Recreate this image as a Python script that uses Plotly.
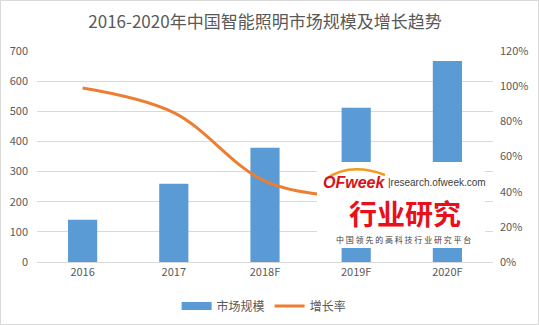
import plotly.graph_objects as go

# Market size (bars, left axis) and growth rate (line, right axis, %)
years = ["2016", "2017", "2018F", "2019F", "2020F"]
market_size = [140, 260, 379, 512, 667]
growth_rate = [99, 85, 46, 36, 30]

W, H = 539, 325
ML, MR, MT, MB = 37, 46, 51, 63
PW, PH = W - ML - MR, H - MT - MB


def px(x):
    return (x - ML) / PW


def py(y):
    return (H - MB - y) / PH


FONT = "Noto Sans CJK SC"
GREY = "#595959"
BLUE = "#5B9BD5"
ORANGE = "#ED7D31"

fig = go.Figure()
fig.add_trace(go.Bar(
    x=years, y=market_size, name="市场规模",
    marker=dict(color=BLUE, line=dict(width=0)),
    yaxis="y", showlegend=False,
))
# legend swatch for the bars drawn as a wide flat bar, like the line swatch
fig.add_trace(go.Scatter(
    x=[None], y=[None], name="市场规模", mode="lines",
    line=dict(color=BLUE, width=8), yaxis="y",
))
fig.add_trace(go.Scatter(
    x=years, y=growth_rate, name="增长率", mode="lines",
    line=dict(color=ORANGE, width=3, shape="spline", smoothing=1.0),
    yaxis="y2",
))

# Watermark box with the OFweek research logo
shapes = [
    dict(type="rect", xref="paper", yref="paper",
         x0=px(317), x1=px(485), y0=py(248), y1=py(162),
         fillcolor="white", line=dict(width=0), layer="above"),
    dict(type="path", xref="paper", yref="paper",
         path=f"M {px(326)} {py(179)} Q {px(350)} {py(162)} {px(385)} {py(175)}",
         line=dict(color="#F39A1E", width=2.5), layer="above"),
    # chart frame
    dict(type="rect", xref="paper", yref="paper",
         x0=px(0.5), x1=px(538.5), y0=py(324.5), y1=py(0.5),
         line=dict(color="#D9D9D9", width=1), fillcolor="rgba(0,0,0,0)"),
]

annotations = [
    dict(text="<b><i>OFweek</i></b>", x=px(322), y=py(182), xref="paper", yref="paper",
         xanchor="left", yanchor="middle", showarrow=False, borderpad=0,
         font=dict(family="Liberation Sans", size=16, color="#D7121A")),
    dict(text="|research.ofweek.com", x=px(387), y=py(182), xref="paper", yref="paper",
         xanchor="left", yanchor="middle", showarrow=False, borderpad=0,
         font=dict(family="Liberation Sans", size=10, color="#404040")),
    dict(text="<b>行业研究</b>", x=px(405), y=py(213), xref="paper", yref="paper",
         xanchor="center", yanchor="middle", showarrow=False, borderpad=0,
         font=dict(family=FONT, size=28, color="#E8101A")),
    dict(text="中 国 领 先 的 高 科 技 行 业 研 究 平 台", x=px(403), y=py(239),
         xref="paper", yref="paper", borderpad=0,
         xanchor="center", yanchor="middle", showarrow=False,
         font=dict(family=FONT, size=8, color="#404040")),
]

fig.update_layout(
    width=W, height=H,
    margin=dict(l=ML, r=MR, t=MT, b=MB, autoexpand=False),
    paper_bgcolor="white", plot_bgcolor="white",
    title=dict(text="2016-2020年中国智能照明市场规模及增长趋势", x=0.5, xref="paper",
               xanchor="center", y=1 - 22 / H, yanchor="middle",
               font=dict(family=FONT, size=17, color=GREY)),
    font=dict(family=FONT, size=11, color=GREY),
    bargap=0.68,
    showlegend=True,
    legend=dict(orientation="h", x=0.49, xanchor="center", xref="container",
                y=1 - 306 / H, yref="container", yanchor="middle",
                font=dict(size=12, color=GREY), itemwidth=30, tracegroupgap=0),
    xaxis=dict(showgrid=False, showline=True, linecolor="#D9D9D9", ticks="",
               automargin=False, tickfont=dict(size=11, color=GREY)),
    yaxis=dict(range=[0, 700], dtick=100, showgrid=True, gridcolor="#D9D9D9",
               zeroline=False, showline=False, ticks="", ticklabelstandoff=8,
               automargin=False, tickfont=dict(size=11, color=GREY)),
    yaxis2=dict(range=[0, 120], dtick=20, ticksuffix="%", overlaying="y", side="right",
                showgrid=False, zeroline=False, showline=False, ticks="",
                automargin=False, ticklabelstandoff=6,
                tickfont=dict(size=11, color=GREY)),
    shapes=shapes,
    annotations=annotations,
)

fig.write_html("out.html")
